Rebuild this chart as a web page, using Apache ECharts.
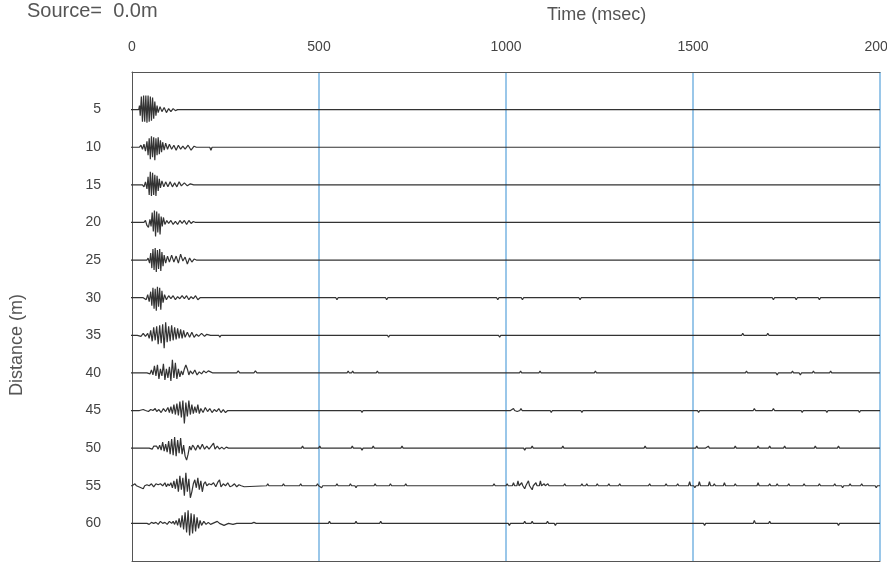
<!DOCTYPE html>
<html>
<head>
<meta charset="utf-8">
<style>
  html, body { margin: 0; padding: 0; background: #fff; }
  #chart { width: 887px; height: 567px; }
</style>
<script src="https://cdn.jsdelivr.net/npm/echarts@6/dist/echarts.min.js"></script>
</head>
<body>
<div id="chart"></div>
<script>
// Shot gather: source at 0.0 m, geophones every 5 m.
const distances = [5, 10, 15, 20, 25, 30, 35, 40, 45, 50, 55, 60];
const timeTicks = [0, 500, 1000, 1500, 2000];
const GAIN = 0.133; // metres of offset per amplitude unit

// Early arrivals: [time ms, amplitude] (positive = up)
const wave5 = [[0,0],[18,0],[20,4],[22,-6],[25,13],[28,-12],[31,14],[34,-12],[37,14],[40,-13],[43,14],[46,-12],[49,13],[52,-11],[55,12],[58,-9],[61,8],[64,-6],[67,4],[70,-3],[75,3],[80,-2],[86,2],[92,-3],[98,1],[104,-2],[110,1],[116,-1],[122,0],[194,0],[197,1],[200,0]];
const wave10 = [[0,0],[20,0],[24,2],[28,-2],[32,3],[36,-4],[40,6],[43,-8],[46,9],[49,-12],[52,11],[55,-10],[58,10],[61,-13],[64,9],[67,-8],[70,10],[73,-7],[76,7],[79,-5],[82,5],[86,-3],[90,4],[95,-2],[100,3],[106,-2],[112,2],[118,-3],[124,2],[130,-2],[136,1],[142,-2],[150,2],[158,-3],[166,1],[172,0],[208,0],[211,-3],[214,0]];
const wave15 = [[0,0],[28,0],[32,-2],[36,3],[40,-4],[43,8],[46,-10],[49,13],[52,-11],[55,12],[58,-10],[61,10],[64,-11],[67,9],[70,-6],[73,6],[76,-3],[80,4],[85,-2],[90,3],[96,-2],[102,3],[108,-2],[114,2],[120,-2],[126,3],[132,-1],[140,2],[148,-1],[156,1],[165,0]];
const wave20 = [[0,0],[32,0],[36,2],[40,-3],[44,-5],[48,3],[51,-4],[54,10],[57,-9],[60,12],[63,-14],[66,11],[69,-10],[72,9],[75,-12],[78,6],[81,-4],[84,5],[88,-2],[93,2],[98,-1],[104,2],[110,-2],[116,1],[122,-2],[128,2],[134,-1],[140,2],[146,-2],[152,2],[158,-1],[164,1],[170,0]];
const wave25 = [[0,0],[40,0],[43,2],[47,-3],[50,7],[53,-8],[56,11],[59,-10],[62,12],[65,-12],[68,10],[71,-9],[74,11],[77,-11],[80,8],[83,-6],[86,5],[90,-3],[95,4],[100,-2],[106,5],[112,-2],[118,4],[124,-3],[130,6],[136,-1],[142,3],[148,-4],[154,2],[160,-2],[166,1],[172,0],[208,0],[211,1.5],[214,0]];
const wave30 = [[0,0],[30,0],[34,1],[38,-2],[42,3],[46,-4],[50,6],[53,-8],[56,10],[59,-11],[62,9],[65,-13],[68,11],[71,-9],[74,10],[77,-12],[80,7],[83,-5],[87,3],[92,-2],[98,2],[104,-1],[110,2],[116,-2],[122,1],[128,-1],[134,2],[140,-1],[146,2],[152,-2],[158,1],[164,-1],[170,2],[176,-2],[182,0]];
const wave35 = [[0,0],[14,0],[18,1],[24,-1],[30,2],[36,-1],[42,2],[46,-3],[50,5],[54,-6],[58,8],[62,-5],[66,9],[70,-9],[74,10],[78,-8],[82,11],[86,-13],[90,13],[94,-7],[98,9],[102,-6],[106,10],[110,-5],[114,8],[118,-4],[122,7],[126,-3],[130,6],[134,-3],[138,5],[142,-2],[148,3],[154,-2],[160,3],[166,-2],[172,1],[178,-1],[186,2],[194,-1],[200,1],[210,0],[232,0],[235,-2],[238,0]];
const wave40 = [[0,0],[40,0],[44,1],[48,-1],[52,3],[56,-2],[60,7],[64,-3],[68,8],[72,-6],[76,4],[80,-3],[84,9],[88,-7],[92,4],[96,-5],[100,6],[104,-8],[108,13],[112,-5],[116,10],[120,-6],[124,4],[128,-4],[132,2],[136,-2],[140,4],[144,8],[148,4],[152,-2],[156,2],[162,-1],[168,3],[174,-2],[180,1],[186,-1],[192,2],[198,0],[204,2],[210,1],[216,0],[240,0],[244,1.5],[248,0],[280,0],[284,2],[288,0],[326,0],[330,2],[334,0]];
const wave45 = [[0,0],[20,0],[24,-1],[30,1],[36,0],[44,-1],[50,1],[56,0],[62,2],[66,-1],[72,1],[78,-2],[84,2],[90,-1],[96,3],[100,-2],[104,4],[108,-3],[112,6],[116,-4],[120,7],[124,-5],[128,9],[132,-7],[136,10],[140,-13],[144,8],[148,-6],[152,10],[156,-4],[160,6],[164,-3],[168,4],[172,-2],[176,6],[180,-3],[184,2],[190,-2],[196,3],[202,-1],[208,2],[214,-2],[220,1],[226,-1],[232,2],[238,-2],[244,1],[250,-2],[256,0]];
const wave50 = [[0,0],[46,0],[50,1],[54,-1],[58,2],[62,1],[66,2],[70,-1],[74,3],[78,-2],[82,6],[86,-3],[90,4],[94,-4],[98,7],[102,-6],[106,9],[110,-7],[114,11],[118,-8],[122,8],[126,-5],[130,10],[134,-6],[138,3],[142,-8],[146,-12],[150,-6],[154,2],[158,-2],[162,3],[166,1],[170,-2],[176,3],[182,-1],[188,4],[194,-1],[200,2],[206,-1],[212,2],[218,5],[222,-1],[228,2],[234,-1],[240,1],[246,-1],[252,1],[258,0],[368,0],[371,1.5],[374,0]];
const wave55 = [[0,0],[4,0],[8,2],[12,0],[18,-1],[22,0],[30,-3],[34,0],[40,1],[46,0],[52,2],[58,-1],[64,2],[70,1],[76,2],[82,0],[88,3],[92,-1],[96,2],[100,0],[104,3],[108,-2],[112,5],[116,-3],[120,7],[124,-6],[128,10],[132,-4],[136,8],[140,-10],[144,13],[148,-6],[152,7],[156,-12],[160,-6],[164,2],[168,6],[172,-2],[176,8],[180,-4],[184,5],[188,-6],[192,2],[196,4],[200,0],[206,2],[212,1],[218,3],[224,-1],[230,4],[234,6],[238,-1],[244,2],[250,0],[256,3],[262,-1],[268,0],[274,2],[280,-1],[286,1],[292,0],[300,-1],[304,0]];
const wave60 = [[0,0],[16,0],[20,1],[26,0],[40,0],[46,-1],[52,1],[58,0],[64,1],[70,-1],[76,2],[82,0],[88,1],[94,-1],[100,2],[106,0],[110,2],[114,-1],[118,3],[122,-2],[126,5],[130,-4],[134,8],[138,-6],[142,11],[146,-9],[150,13],[154,-12],[158,10],[162,-10],[166,9],[170,-8],[174,6],[178,-5],[182,3],[186,-2],[192,2],[198,-1],[204,1],[210,-1],[216,0],[222,1],[228,2],[234,0],[240,-1],[246,-2],[252,-1],[258,0],[270,-1],[280,0],[320,0],[326,1],[332,0]];

// Later isolated pulses (reflections / noise): [time ms, amplitude]
const late5 = [];
const late10 = [];
const late15 = [];
const late20 = [[1037,-1.5]];
const late25 = [];
const late30 = [[548,-2],[681,-2],[978,-2],[1044,-2],[1101,-1.5],[1198,-2],[1439,-1],[1551,-1.5],[1643,-1.5],[1674,-1.5],[1715,-2],[1776,-2],[1838,-2],[1884,-1]];
const late35 = [[456,1],[558,-1],[599,-1],[686,-2],[983,-2],[1147,-1],[1213,-1.5],[1234,1.5],[1321,-1],[1382,-1],[1495,-1.5],[1556,-1],[1597,-1],[1633,2],[1674,-1],[1700,2],[1725,-1.5],[1787,-1],[1838,-1],[1889,-1.5]];
const late40 = [[451,1.5],[578,2],[590,2],[656,2],[978,1],[1039,2],[1091,2],[1147,1.5],[1239,2],[1367,1.5],[1485,1.5],[1551,1.5],[1587,1.5],[1618,1.5],[1643,2],[1710,1.5],[1725,-2],[1766,2],[1787,-2],[1822,2],[1868,2],[1920,1.5]];
const late45 = [[615,-2],[1009,1],[1020,2],[1030,-1],[1040,2],[1055,-1.5],[1121,-2],[1203,-2],[1515,-2],[1540,-1],[1582,1],[1620,-1],[1664,2],[1690,-1],[1715,2],[1735,-1],[1792,-2],[1858,-2],[1945,-2]];
const late50 = [[456,2],[502,2],[548,1.5],[589,2],[615,-2],[645,2],[722,2],[1029,1.5],[1050,-2],[1070,2],[1111,1.5],[1152,2],[1229,1.5],[1300,1.5],[1372,2],[1433,1.5],[1510,2],[1530,-1.5],[1541,2],[1582,1.5],[1613,2],[1674,2],[1705,2],[1725,-1.5],[1745,2],[1776,1.5],[1827,2],[1889,2],[1940,1.5]];
const late55 = [[363,2],[405,2],[451,2],[496,2],[507,-2],[548,2],[584,2],[599,-2],[650,2],[691,2],[732,2],[763,1.5],[876,1.5],[927,1.5],[968,2],[1003,2],[1020,3],[1032,5],[1042,3],[1050,-3],[1060,5],[1070,-4],[1080,3],[1092,5],[1102,2],[1112,2],[1157,2],[1203,2],[1216,2],[1244,2],[1275,2],[1304,2],[1316,1.5],[1384,2],[1428,2],[1459,2],[1491,4],[1505,-2],[1517,4],[1530,-1.5],[1544,4],[1557,2],[1584,3],[1613,2],[1640,-1.5],[1674,3],[1705,2],[1725,2],[1756,2],[1797,2],[1838,2],[1879,2],[1900,-2],[1920,2],[1951,2],[1990,-2]];
const late60 = [[360,1],[420,1.5],[528,2],[599,2],[665,2],[927,1.5],[1009,-2],[1029,1.5],[1050,2],[1070,2],[1090,-1],[1111,2],[1132,-2],[1172,1.5],[1213,1.5],[1275,1.5],[1316,1.5],[1377,1.5],[1418,1.5],[1459,1.5],[1500,1.5],[1531,-2],[1560,1],[1582,1.5],[1623,1.5],[1664,3],[1690,-1.5],[1705,2],[1745,1.5],[1787,1.5],[1810,-1],[1848,1.5],[1889,-2],[1930,1.5],[1971,1.5]];

const waves = [wave5, wave10, wave15, wave20, wave25, wave30, wave35, wave40, wave45, wave50, wave55, wave60];
const lates = [late5, late10, late15, late20, late25, late30, late35, late40, late45, late50, late55, late60];

// Each trace: short lead-in left of the time axis, early wavelet, then
// later pulses sitting on a flat baseline, out to 2000 ms.
function buildTrace(dist, wave, late) {
  const pts = [[-18, 0]].concat(wave);
  late.forEach(([t, a]) => {
    pts.push([t - 3, 0], [t, a], [t + 3, 0]);
  });
  pts.push([2000, 0]);
  return pts.map(([t, a]) => [t, dist - a * GAIN]);
}

const series = distances.map((d, i) => ({
  type: 'line',
  name: d + ' m',
  data: buildTrace(d, waves[i], lates[i]),
  showSymbol: false,
  clip: false,
  silent: true,
  lineStyle: { color: '#333', width: 1.2 },
  z: 5
}));

const FONT = 'Liberation Sans, Arial, sans-serif';

const chart = echarts.init(document.getElementById('chart'), null, { renderer: 'canvas' });
chart.setOption({
  animation: false,
  backgroundColor: '#fff',
  textStyle: { fontFamily: FONT },
  grid: { left: 132, right: 7, top: 72, bottom: 6, containLabel: false, outerBoundsMode: 'none' },
  graphic: [{
    type: 'text',
    left: 27,
    top: 1,
    style: { text: 'Source=  0.0m', fontSize: 20, fill: '#555', fontFamily: FONT }
  }, {
    type: 'text',
    left: 547,
    top: 6,
    style: { text: 'Time (msec)', fontSize: 18, fill: '#555', fontFamily: FONT }
  }, {
    type: 'text',
    x: 8,
    y: 345,
    rotation: Math.PI / 2,
    style: { text: 'Distance (m)', fontSize: 18, fill: '#555', fontFamily: FONT, align: 'center', verticalAlign: 'top' }
  }],
  xAxis: [{
    type: 'value',
    position: 'top',
    min: timeTicks[0],
    max: timeTicks[timeTicks.length - 1],
    interval: 500,
    axisLine: { show: true, lineStyle: { color: '#555', width: 1 } },
    axisTick: { show: false },
    axisLabel: { fontSize: 14, color: '#444', margin: 18, formatter: v => String(v) },
    splitLine: { show: true, showMinLine: false, lineStyle: { color: '#78b4e2', width: 1.5 } }
  }, {
    type: 'value',
    position: 'bottom',
    min: 0,
    max: 2000,
    axisLine: { show: true, lineStyle: { color: '#555', width: 1 } },
    axisTick: { show: false },
    axisLabel: { show: false },
    splitLine: { show: false }
  }],
  yAxis: {
    type: 'value',
    inverse: true,
    min: 0,
    max: 65,
    interval: 5,
    axisLine: { show: true, lineStyle: { color: '#555', width: 1 } },
    axisTick: { show: false },
    axisLabel: {
      fontSize: 14,
      color: '#444',
      margin: 31,
      formatter: v => (distances.indexOf(v) >= 0 ? String(v) : '')
    },
    splitLine: { show: false }
  },
  series: series
});
</script>
</body>
</html>
